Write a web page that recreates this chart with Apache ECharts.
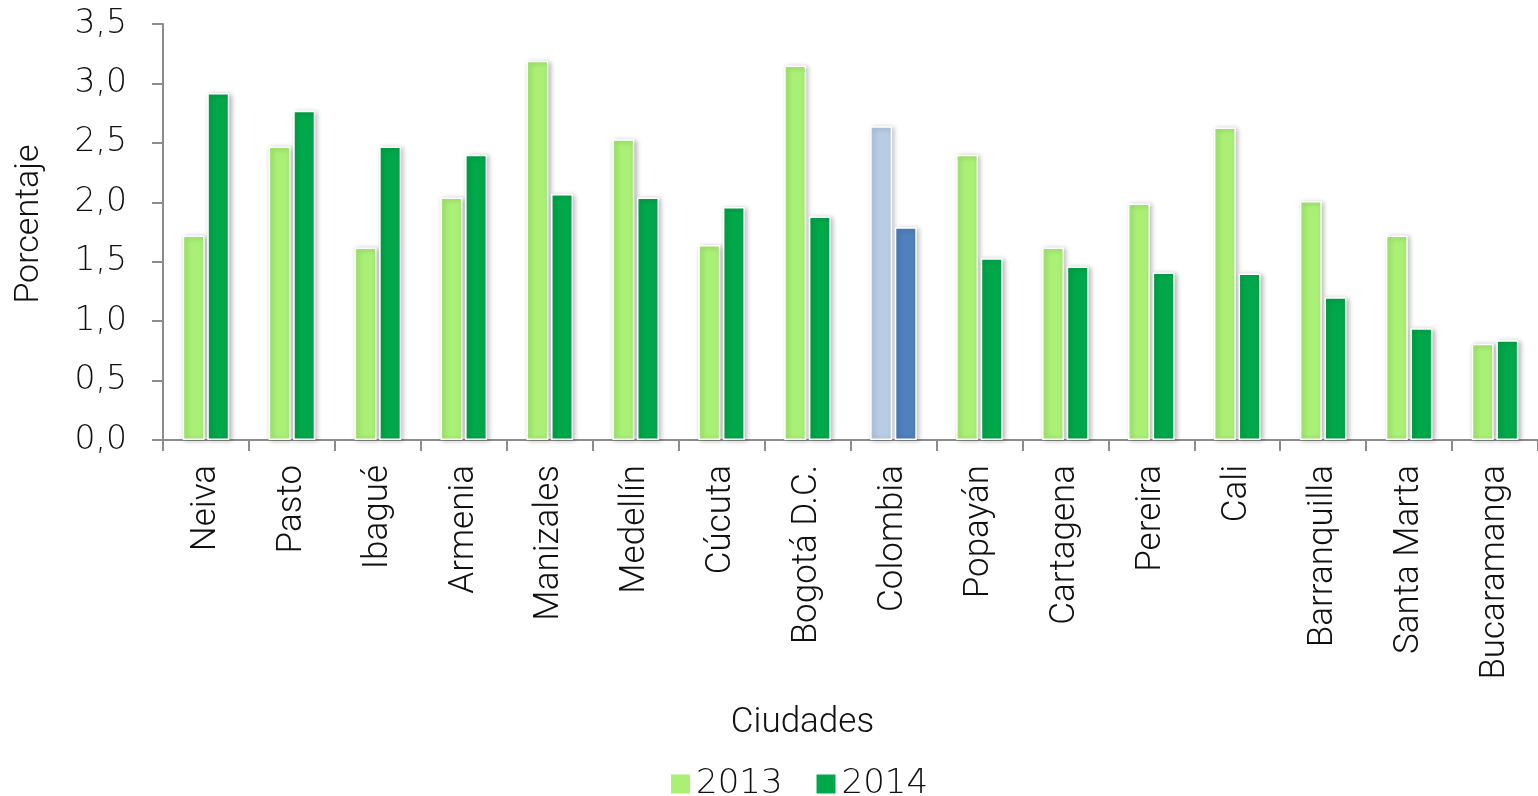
<!DOCTYPE html>
<html>
<head>
<meta charset="utf-8">
<script src="https://cdn.jsdelivr.net/npm/echarts@6/dist/echarts.min.js"></script>
<style>
html,body{margin:0;padding:0;background:#fff;}
#chart{width:1538px;height:796px;}
</style>
</head>
<body>
<div id="chart"></div>
<script>
var categories = ['Neiva','Pasto','Ibagué','Armenia','Manizales','Medellín','Cúcuta','Bogotá D.C.','Colombia','Popayán','Cartagena','Pereira','Cali','Barranquilla','Santa Marta','Bucaramanga'];
var values2013 = [1.72,2.47,1.62,2.04,3.19,2.53,1.64,3.15,2.64,2.40,1.62,1.99,2.63,2.01,1.72,0.81];
var values2014 = [2.92,2.77,2.47,2.40,2.07,2.04,1.96,1.88,1.79,1.53,1.46,1.41,1.40,1.20,0.94,0.84];
var seriesNames = ['2013','2014'];
var highlightCategory = 'Colombia';

var FONT = 'Roboto';
var NUMFONT = 'DejaVu Sans';
var TXT = '#111111';
var c2013 = '#a9f075', c2014 = '#00a84a';
var h2013 = '#b8cce4', h2014 = '#4f81bd';

function build(vals, hl){
  return vals.map(function(v,i){
    if(categories[i] === highlightCategory){
      return {value:v, itemStyle:{color:hl}};
    }
    return v;
  });
}
var barStyle = {borderColor:'#ffffff', borderWidth:1.5, shadowBlur:5, shadowColor:'rgba(0,0,0,0.28)', shadowOffsetX:2, shadowOffsetY:1};

var chart = echarts.init(document.getElementById('chart'), null, {renderer:'canvas'});
chart.setOption({
  animation:false,
  backgroundColor:'#ffffff',
  grid:{left:163, right:0, top:24, bottom:356, containLabel:false, outerBoundsMode:'none'},
  legend:{
    top:762, left:664,
    itemWidth:21, itemHeight:21, itemGap:32,
    icon:'rect',
    textStyle:{fontFamily:NUMFONT, fontSize:34, color:TXT, fontWeight:200},
    data:seriesNames
  },
  xAxis:{
    type:'category',
    data:categories,
    name:'Ciudades',
    nameLocation:'middle',
    nameGap:266,
    nameTextStyle:{fontFamily:FONT, fontSize:35, color:TXT, fontWeight:300, padding:[0,96,0,0]},
    axisLine:{lineStyle:{color:'#8c8c8c', width:2}},
    axisTick:{show:true, length:11, lineStyle:{color:'#8c8c8c', width:2}},
    axisLabel:{rotate:90, margin:25, fontFamily:FONT, fontSize:35, color:TXT, fontWeight:300, interval:0}
  },
  yAxis:{
    type:'value',
    min:0, max:3.5, interval:0.5,
    name:'Porcentaje',
    nameLocation:'middle',
    nameGap:117,
    nameTextStyle:{fontFamily:FONT, fontSize:34, color:TXT, fontWeight:300, padding:[0,0,0,16]},
    axisLine:{show:true, lineStyle:{color:'#8c8c8c', width:2}},
    axisTick:{show:true, length:11, lineStyle:{color:'#8c8c8c', width:2}},
    splitLine:{show:false},
    axisLabel:{margin:36, fontFamily:NUMFONT, fontSize:33, color:TXT, fontWeight:200,
      formatter:function(v){return v.toFixed(1).replace('.',',');}}
  },
  series:[
    {name:seriesNames[0], type:'bar', data:build(values2013,h2013), barWidth:22, barGap:'12%',
     itemStyle:Object.assign({color:c2013}, barStyle)},
    {name:seriesNames[1], type:'bar', data:build(values2014,h2014), barWidth:22, barGap:'12%',
     itemStyle:Object.assign({color:c2014}, barStyle)}
  ]
});
</script>
</body>
</html>
